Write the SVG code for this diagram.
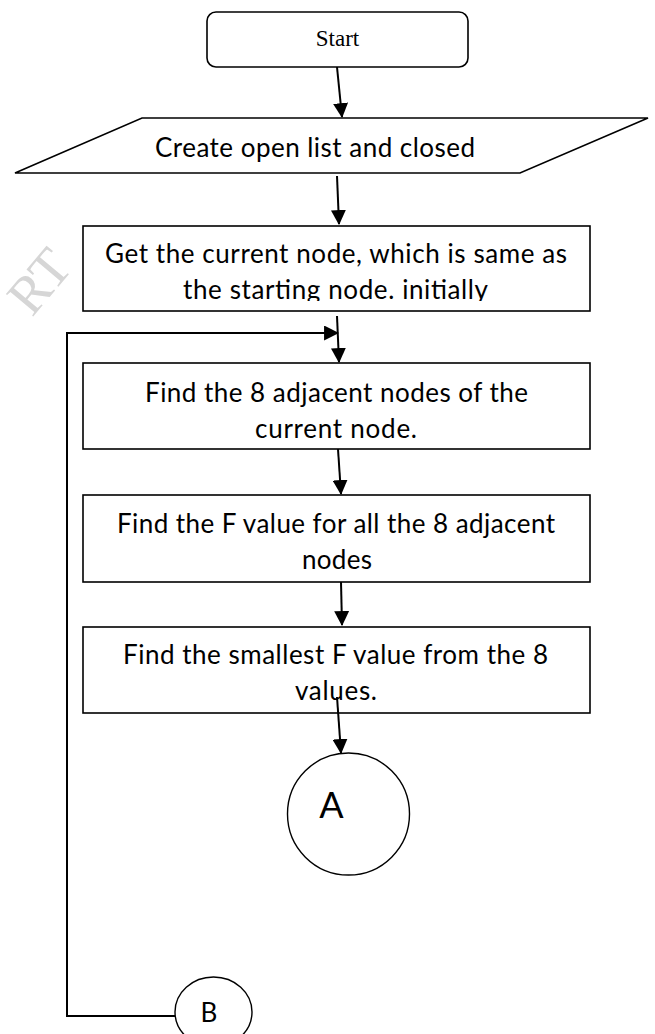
<svg xmlns="http://www.w3.org/2000/svg" width="655" height="1034" viewBox="0 0 655 1034">
<style>
.box{fill:#fff;stroke:#000;stroke-width:1.6}
.t{font-family:Lato,"Liberation Sans",sans-serif;font-size:26px;fill:#000}
.conn{fill:none;stroke:#000;stroke-width:2}
.wm{font-family:"Liberation Serif",serif;font-size:54px;fill:#d6d6d6}
</style>
<defs>
<marker id="ah" markerUnits="userSpaceOnUse" markerWidth="15" markerHeight="15" refX="13" refY="7" orient="auto" viewBox="0 0 14 14">
<path d="M0,0 L14,7 L0,14 z" fill="#000"/>
</marker>
<clipPath id="c3"><rect x="83" y="226" width="507" height="75"/></clipPath>
<clipPath id="c4"><rect x="83" y="363" width="507" height="77"/></clipPath>
<clipPath id="c5"><rect x="83" y="495" width="507" height="75"/></clipPath>
<clipPath id="c6"><rect x="83" y="627" width="507" height="75"/></clipPath>
</defs>
<rect width="655" height="1034" fill="#fff"/>
<g id="watermark">
<text class="wm" transform="translate(32,318) rotate(-50)">RT</text>
</g>
<g id="start">
<rect class="box" x="207" y="12" width="261" height="55" rx="9"/>
<text x="337.5" y="46" text-anchor="middle" font-family="'Liberation Serif',serif" font-size="23">Start</text>
</g>
<g id="create">
<polygon class="box" points="142,118 648,118 520,173 15,173"/>
<text class="t" x="155" y="157" textLength="320">Create open list and closed</text>
</g>
<g id="get-current">
<rect class="box" x="83" y="226" width="507" height="85"/>
<g clip-path="url(#c3)">
<text class="t" x="105" y="263" textLength="462">Get the current node, which is same as</text>
<text class="t" x="183" y="298.5" textLength="305">the starting node. initially</text>
</g>
</g>
<g id="find-adjacent">
<rect class="box" x="83" y="363" width="507" height="86"/>
<g clip-path="url(#c4)">
<text class="t" x="145" y="402" textLength="383">Find the 8 adjacent nodes of the</text>
<text class="t" x="255" y="437.5" textLength="162">current node.</text>
</g>
</g>
<g id="find-f">
<rect class="box" x="83" y="495" width="507" height="87"/>
<g clip-path="url(#c5)">
<text class="t" x="117" y="533" textLength="438">Find the F value for all the 8 adjacent</text>
<text class="t" x="302" y="568.5" textLength="70">nodes</text>
</g>
</g>
<g id="find-smallest">
<rect class="box" x="83" y="627" width="507" height="86"/>
<g clip-path="url(#c6)">
<text class="t" x="123" y="664" textLength="425">Find the smallest F value from the 8</text>
<text class="t" x="295" y="699.5" textLength="82">values.</text>
</g>
</g>
<g id="connector-a">
<circle cx="348.5" cy="814" r="61" fill="#fff" stroke="#000" stroke-width="1.4"/>
<text x="331.5" y="818" text-anchor="middle" font-family="Lato,'Liberation Sans',sans-serif" font-size="36">A</text>
</g>
<g id="connector-b">
<ellipse cx="213.5" cy="1012" rx="38.5" ry="35" fill="#fff" stroke="#000" stroke-width="1.4"/>
<text x="209" y="1022" text-anchor="middle" font-family="Lato,'Liberation Sans',sans-serif" font-size="26">B</text>
</g>
<g id="connectors">
<line class="conn" x1="337" y1="67" x2="342" y2="117" marker-end="url(#ah)"/>
<line class="conn" x1="337" y1="176" x2="339" y2="224" marker-end="url(#ah)"/>
<line class="conn" x1="337" y1="316" x2="339" y2="362" marker-end="url(#ah)"/>
<line class="conn" x1="338" y1="449" x2="341" y2="494" marker-end="url(#ah)"/>
<line class="conn" x1="341" y1="582" x2="342" y2="625" marker-end="url(#ah)"/>
<line class="conn" x1="337" y1="697" x2="341" y2="753" marker-end="url(#ah)"/>
<path class="conn" d="M175,1016 H67 V333 H338" marker-end="url(#ah)"/>
</g>
</svg>
